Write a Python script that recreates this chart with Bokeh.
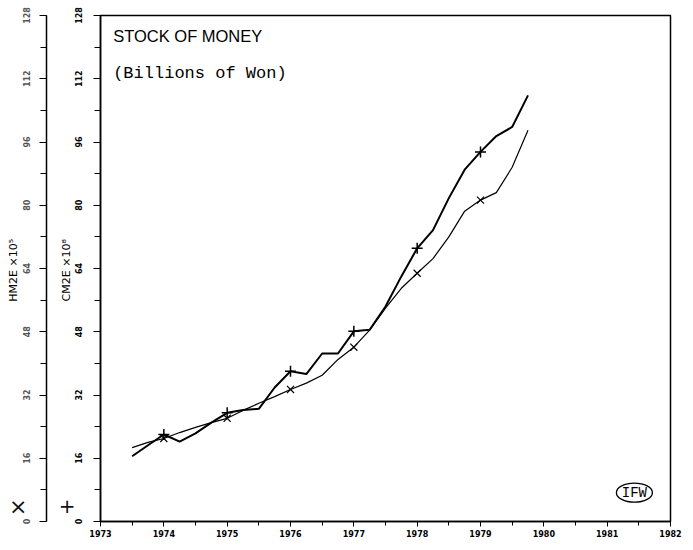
from bokeh.plotting import figure
from bokeh.models import LinearAxis, Range1d, SingleIntervalTicker, FixedTicker, Label, ColumnDataSource
from bokeh.embed import file_html
from bokeh.resources import INLINE

# ---- data ----
quarters = [1973.5, 1973.75, 1974.0, 1974.25, 1974.5, 1974.75,
            1975.0, 1975.25, 1975.5, 1975.75, 1976.0, 1976.25,
            1976.5, 1976.75, 1977.0, 1977.25, 1977.5, 1977.75,
            1978.0, 1978.25, 1978.5, 1978.75, 1979.0, 1979.25,
            1979.5, 1979.75]
cm2e = [16.5, 19.3, 22.0, 20.2, 22.3, 25.0,
        27.5, 28.2, 28.5, 33.9, 38.0, 37.3,
        42.5, 42.5, 48.1, 48.5, 54.4, 62.0,
        69.1, 73.7, 81.8, 89.0, 93.5, 97.5,
        99.8, 107.8]
hm2e = [18.7, 20.0, 21.0, 22.5, 23.8, 25.0,
        26.1, 28.1, 29.9, 31.6, 33.4, 35.0,
        37.0, 41.0, 44.1, 48.4, 54.0, 59.0,
        62.8, 66.5, 72.0, 78.5, 81.3, 83.2,
        89.6, 99.0]
year_ticks = list(range(1973, 1983))
y_ticks = [0, 16, 32, 48, 64, 80, 96, 112, 128]
title_1 = "STOCK OF MONEY"
title_2 = "(Billions of Won)"
logo_text = "IFW"
cm2e_name = "CM2E  \u00d710\u2078"
hm2e_name = "HM2E  \u00d710\u2075"
cm2e_symbol = "+"
hm2e_symbol = "\u00d7"
symbol_level = 3.8   # height (axis units) where the series symbols sit

mark_x = [q for q in quarters if q == int(q)]
cm2e_marks = [v for q, v in zip(quarters, cm2e) if q == int(q)]
hm2e_marks = [v for q, v in zip(quarters, hm2e) if q == int(q)]

NB = "\u00a0"

p = figure(width=693, height=550, output_backend="svg", toolbar_location=None,
           x_range=Range1d(1973, 1982), y_range=Range1d(0, 128),
           min_border_left=100, min_border_right=23, min_border_top=15, min_border_bottom=29,
           background_fill_color="white", border_fill_color="white")
p.extra_y_ranges = {"outer": Range1d(0, 128)}
p.xgrid.visible = False
p.ygrid.visible = False
p.outline_line_color = "black"
p.outline_line_width = 1.5

tick_font = "DejaVu Sans"

# x axis
xa = p.xaxis[0]
xa.ticker = SingleIntervalTicker(interval=1, num_minor_ticks=2)
xa.axis_line_width = 1.5
xa.major_tick_out = 5
xa.major_tick_in = 0
xa.minor_tick_out = 4
xa.minor_tick_in = 0
xa.major_label_standoff = 3
xa.major_label_text_font = tick_font
xa.major_label_text_font_style = "bold"
xa.major_label_text_font_size = "8px"
xa.major_label_text_color = "black"

def style_y(ax, label, color):
    ax.ticker = SingleIntervalTicker(interval=16, num_minor_ticks=2)
    ax.axis_line_width = 1.5
    ax.major_tick_out = 7
    ax.major_tick_in = 0
    ax.minor_tick_out = 6
    ax.minor_tick_in = 0
    ax.major_label_orientation = "vertical"
    ax.major_label_standoff = 12
    ax.major_label_text_font = tick_font
    ax.major_label_text_font_style = "bold"
    ax.major_label_text_font_size = "8px"
    ax.major_label_text_color = color
    ax.axis_label = label
    ax.axis_label_text_font = tick_font
    ax.axis_label_text_font_style = "normal"
    ax.axis_label_text_font_size = "11px"
    ax.axis_label_text_color = "black"
    ax.axis_label_standoff = -1

inner = p.yaxis[0]
style_y(inner, cm2e_name, "black")

def symbol_axis(symbol, size, standoff, range_name="default"):
    return LinearAxis(y_range_name=range_name,
                      ticker=FixedTicker(ticks=[symbol_level]),
                      major_label_overrides={symbol_level: symbol},
                      axis_line_color=None, major_tick_line_color=None,
                      minor_tick_line_color=None, major_tick_out=0, minor_tick_out=0,
                      major_tick_in=0, minor_tick_in=0,
                      major_label_orientation="horizontal",
                      major_label_standoff=standoff,
                      major_label_text_font="DejaVu Sans",
                      major_label_text_font_size=size,
                      major_label_text_color="#111111",
                      axis_label=NB, axis_label_text_font_size="6px",
                      axis_label_standoff=0)

# "+" symbol column, also acting as the gap between the two y axes
plus_axis = symbol_axis(cm2e_symbol, "20px", -19)
p.add_layout(plus_axis, "left")

outer = LinearAxis(y_range_name="outer")
style_y(outer, hm2e_name, "#555555")
outer.major_label_standoff = 10
outer.axis_label_standoff = 0
p.add_layout(outer, "left")

times_axis = symbol_axis(hm2e_symbol, "22px", -24, "outer")
times_axis.axis_label = None
p.add_layout(times_axis, "left")

src = ColumnDataSource(dict(x=quarters, cm=cm2e, hm=hm2e))
p.line("x", "cm", source=src, line_color="black", line_width=2)
p.line("x", "hm", source=src, line_color="black", line_width=1.2)
msrc = ColumnDataSource(dict(x=mark_x, cm=cm2e_marks, hm=hm2e_marks))
p.scatter("x", "cm", source=msrc, marker="cross", size=11, line_color="black", line_width=1.5)
p.scatter("x", "hm", source=msrc, marker="x", size=10, line_color="black", line_width=1.2)

# titles
p.add_layout(Label(x=1973.2, y=122.7, text=title_1, text_font="Liberation Sans",
                   text_font_size="16.5px", text_baseline="middle", text_color="black"))
p.add_layout(Label(x=1973.2, y=113.4, text=title_2, text_font="Liberation Mono",
                   text_font_size="17px", text_baseline="middle", text_color="black"))

# logo
p.ellipse(x=[1981.43], y=[7.3], width=[36], height=[19], width_units="screen",
          height_units="screen", fill_color=None, line_color="black", line_width=1.3)
p.add_layout(Label(x=1981.43, y=7.3, text=logo_text, text_font="Liberation Mono",
                   text_font_size="14px", text_align="center", text_baseline="middle",
                   text_color="black"))

open("out.html", "w").write(file_html(p, INLINE))
